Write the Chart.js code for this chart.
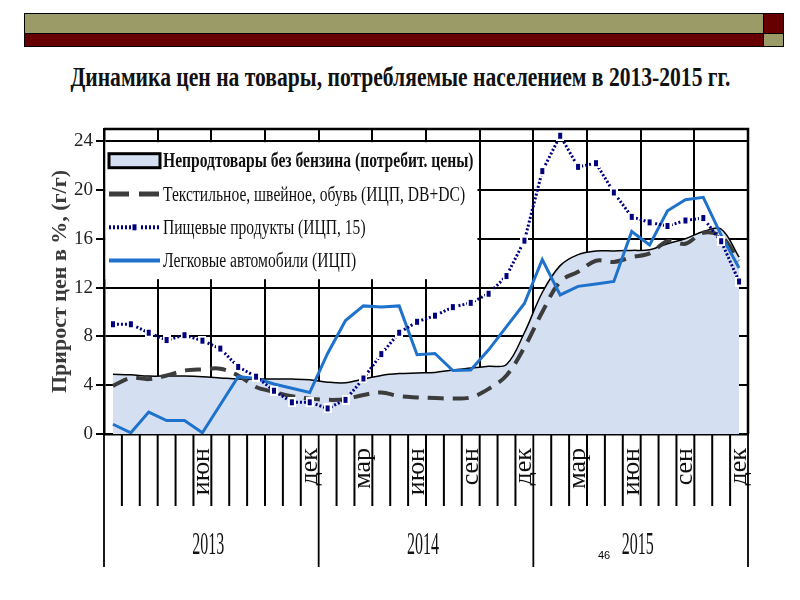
<!DOCTYPE html>
<html lang="ru">
<head>
<meta charset="utf-8">
<title>Динамика цен на товары</title>
<script src="https://cdn.jsdelivr.net/npm/chart.js@4.4.1/dist/chart.umd.min.js"></script>
<style>
  html, body { margin: 0; padding: 0; background: #fff; }
  #slide { position: relative; width: 800px; height: 600px; overflow: hidden; }
  .bar { position: absolute; box-sizing: border-box; border: 1px solid #000; }
  #title { position: absolute; left: 0; top: 64px; width: 800px; text-align: center; white-space: nowrap; }
  #title span { display: inline-block; font: bold 22px "Liberation Serif", serif; color: #111; transform-origin: center; }
  #chart { position: absolute; left: 0; top: 0; }
  #page { position: absolute; left: 598px; top: 549px; font: 11px "Liberation Sans", Arial, sans-serif; color: #000; }
</style>
</head>
<body>
<div id="slide">
  <div class="bar" style="left:24px; top:13px; width:740px; height:21px; background:#9b9b68;"></div>
  <div class="bar" style="left:24px; top:33px; width:740px; height:14px; background:#660000;"></div>
  <div class="bar" style="left:763px; top:13px; width:21px; height:21px; background:#660000;"></div>
  <div class="bar" style="left:763px; top:33px; width:21px; height:14px; background:#9b9b68;"></div>
  <div id="title"><span>Динамика цен на товары, потребляемые населением в 2013-2015 гг.</span></div>
  <canvas id="chart" width="800" height="600"></canvas>
  <div id="page">46</div>
</div>
<script>
// months and years on the x axis
const months = ["янв", "фев", "мар", "апр", "май", "июн", "июл", "авг", "сен", "окт", "ноя", "дек"];
const years = ["2013", "2014", "2015"];
const tickLabels = [
  "", "", "", "", "", "июн", "", "", "", "", "", "дек",
  "", "", "мар", "", "", "июн", "", "", "сен", "", "", "дек",
  "", "", "мар", "", "", "июн", "", "", "сен", "", "", "дек"
];

// year-on-year price growth, %
const nonFood = [
  4.9, 4.85, 4.75, 4.75, 4.75, 4.7, 4.6, 4.5, 4.5, 4.5, 4.5, 4.45,
  4.25, 4.2, 4.5, 4.8, 4.95, 5.0, 5.05, 5.25, 5.4, 5.55, 5.7, 8.3,
  11.6, 13.8, 14.7, 15.0, 15.0, 15.05, 15.1, 15.6, 16.0, 16.6, 16.8, 14.5
];
const textile = [
  3.95, 4.6, 4.5, 4.8, 5.2, 5.3, 5.35, 4.8, 3.85, 3.45, 3.1, 2.9,
  2.8, 2.85, 3.2, 3.4, 3.1, 3.0, 2.95, 2.9, 3.0, 3.7, 4.8, 7.1,
  10.0, 12.5, 13.3, 14.2, 14.1, 14.5, 14.8, 15.8, 15.6, 16.5, 16.2, 14.2
];
const food = [
  9.0, 9.0, 8.3, 7.7, 8.1, 7.65, 7.0, 5.5, 4.7, 3.55, 2.6, 2.6,
  2.1, 2.8, 4.55, 6.55, 8.3, 9.2, 9.7, 10.4, 10.75, 11.5, 12.95, 15.85,
  21.55, 24.45, 21.9, 22.2, 19.8, 17.8, 17.35, 17.05, 17.5, 17.7, 15.8, 12.5
];
const cars = [
  0.8, 0.1, 1.8, 1.1, 1.1, 0.1, 2.4, 4.7, 4.55, 4.1, 3.75, 3.4,
  6.6, 9.3, 10.5, 10.4, 10.5, 6.5, 6.6, 5.2, 5.25, 6.9, 8.8, 10.7,
  14.3, 11.4, 12.1, 12.3, 12.5, 16.6, 15.5, 18.3, 19.2, 19.4, 16.3, 13.6
];

const categories = [];
years.forEach(y => months.forEach(m => categories.push(m + " " + y)));

// squeeze the title to the slide width
const titleSpan = document.querySelector("#title span");
titleSpan.style.transform = "scale(" + (660 / titleSpan.getBoundingClientRect().width) + ", 1.25)";

// food marker: navy bar with a white halo
const marker = document.createElement("canvas");
marker.width = 8;
marker.height = 10;
const mctx = marker.getContext("2d");
mctx.fillStyle = "#fff";
mctx.fillRect(0, 0, 8, 10);
mctx.fillStyle = "#00007f";
mctx.fillRect(2, 2, 4, 6);

// white legend box in the upper left corner of the plot
const boxLegend = {
  id: "boxLegend",
  beforeDatasetsDraw(chart) {
    const { ctx, chartArea, scales } = chart;
    const top = scales.y.getPixelForValue(24);
    const left = chartArea.left;
    ctx.save();
    ctx.fillStyle = "#fff";
    ctx.fillRect(left + 1.5, top + 1, 372, 137);
    chart.data.datasets.forEach((ds, i) => {
      const cy = top + 19.5 + i * 33.3;
      const x0 = left + 5, x1 = left + 56;
      ctx.save();
      if (ds.fill) {
        ctx.fillStyle = ds.backgroundColor;
        ctx.fillRect(x0, cy - 7, x1 - x0, 14);
        ctx.strokeStyle = "#000";
        ctx.lineWidth = 3;
        ctx.strokeRect(x0, cy - 7, x1 - x0, 14);
      } else {
        ctx.strokeStyle = ds.borderColor;
        ctx.lineWidth = ds.borderWidth + 1;
        ctx.setLineDash(ds.borderDash ? (i === 1 ? [20, 10] : ds.borderDash) : []);
        ctx.beginPath();
        ctx.moveTo(x0, cy);
        ctx.lineTo(x1, cy);
        ctx.stroke();
        if (ds.pointStyle === marker) {
          ctx.drawImage(marker, (x0 + x1) / 2 - 4, cy - 5);
        }
      }
      ctx.restore();
      ctx.save();
      ctx.translate(left + 59, cy + 1);
      ctx.scale(0.78, 1.08);
      ctx.font = (i === 0 ? "bold " : "") + '20px "Liberation Serif"';
      ctx.fillStyle = "#111";
      ctx.textBaseline = "middle";
      ctx.fillText(ds.label, 0, 0);
      ctx.restore();
    });
    ctx.restore();
  }
};

// frame, month tick marks, year dividers and year labels
const frameAndYears = {
  id: "frameAndYears",
  afterDraw(chart) {
    const { ctx, chartArea, scales } = chart;
    const x = scales.x;
    const half = (x.getPixelForValue(1) - x.getPixelForValue(0)) / 2;
    const edge = i => x.getPixelForValue(i) - half;
    ctx.save();
    ctx.strokeStyle = "#000";
    ctx.lineWidth = 2.5;
    ctx.beginPath();
    ctx.moveTo(chartArea.left, chartArea.top);
    ctx.lineTo(chartArea.right, chartArea.top);
    ctx.lineTo(chartArea.right, chartArea.bottom);
    ctx.stroke();
    // one tick mark per month under the axis
    ctx.lineWidth = 2;
    for (let i = 1; i < categories.length; i++) {
      if (i % 12 === 0) continue;
      ctx.beginPath();
      ctx.moveTo(edge(i), chartArea.bottom);
      ctx.lineTo(edge(i), chartArea.bottom + 72);
      ctx.stroke();
    }
    // year dividers run to the bottom of the axis
    ctx.lineWidth = 1.8;
    for (let k = 0; k <= years.length; k++) {
      const px = edge(k * 12);
      ctx.beginPath();
      ctx.moveTo(px, chartArea.bottom);
      ctx.lineTo(px, x.bottom);
      ctx.stroke();
    }
    ctx.fillStyle = "#111";
    ctx.font = '16px "Liberation Serif"';
    ctx.textAlign = "center";
    ctx.textBaseline = "middle";
    years.forEach((y, k) => {
      const cx = (x.getPixelForValue(k * 12) + x.getPixelForValue(k * 12 + 11)) / 2;
      ctx.save();
      ctx.translate(cx - 3, chartArea.bottom + 112);
      ctx.scale(1, 2);
      ctx.fillText(y, 0, 0);
      ctx.restore();
    });
    ctx.restore();
  }
};

new Chart(document.getElementById("chart"), {
  type: "line",
  data: {
    labels: categories,
    datasets: [
      {
        label: "Непродтовары без бензина (потребит. цены)",
        data: nonFood,
        fill: "origin",
        backgroundColor: "#d4e0f2",
        borderColor: "#000",
        borderWidth: 1.5,
        tension: 0.35,
        pointRadius: 0,
        order: 4
      },
      {
        label: "Текстильное, швейное, обувь (ИЦП, DB+DC)",
        data: textile,
        fill: false,
        borderColor: "#3c3c3c",
        borderWidth: 4,
        borderDash: [16, 9],
        tension: 0.35,
        pointRadius: 0,
        order: 3
      },
      {
        label: "Пищевые продукты (ИЦП, 15)",
        data: food,
        fill: false,
        borderColor: "#00007f",
        borderWidth: 3,
        borderDash: [2, 2],
        pointStyle: marker,
        pointRadius: 5,
        order: 1
      },
      {
        label: "Легковые автомобили (ИЦП)",
        data: cars,
        fill: false,
        borderColor: "#1f72cc",
        borderWidth: 3,
        pointRadius: 0,
        order: 2
      }
    ]
  },
  options: {
    responsive: false,
    animation: false,
    layout: { padding: { left: 40, top: 129, right: 52, bottom: 33 } },
    plugins: {
      legend: { display: false },
      tooltip: { enabled: false }
    },
    scales: {
      x: {
        offset: true,
        grid: {
          offset: true,
          color: c => (c.index % 3 === 0 && c.index > 0) ? "#000" : "rgba(0,0,0,0)",
          lineWidth: 2,
          drawTicks: false
        },
        border: { color: "#000", width: 2.5 },
        ticks: {
          autoSkip: false,
          minRotation: 90,
          maxRotation: 90,
          padding: 14,
          color: "#111",
          font: { family: "Liberation Serif", size: 26 },
          callback: (v, i) => tickLabels[i]
        },
        afterFit: s => { s.height = 133; }
      },
      y: {
        min: 0,
        max: 25,
        ticks: {
          stepSize: 4,
          includeBounds: false,
          padding: 3,
          color: "#222",
          font: { family: "Liberation Serif", size: 19 }
        },
        grid: { color: "#000", lineWidth: 2, tickLength: 8, tickColor: "#000" },
        border: { color: "#000", width: 2.5 },
        title: {
          display: true,
          text: "Прирост цен в %, (г/г)",
          color: "#3a3a3a",
          font: { family: "Liberation Serif", size: 22, weight: "bold" },
          padding: { top: 7, bottom: 0 }
        },
        afterFit: s => { s.width = 64; }
      }
    }
  },
  plugins: [boxLegend, frameAndYears]
});
</script>
</body>
</html>
